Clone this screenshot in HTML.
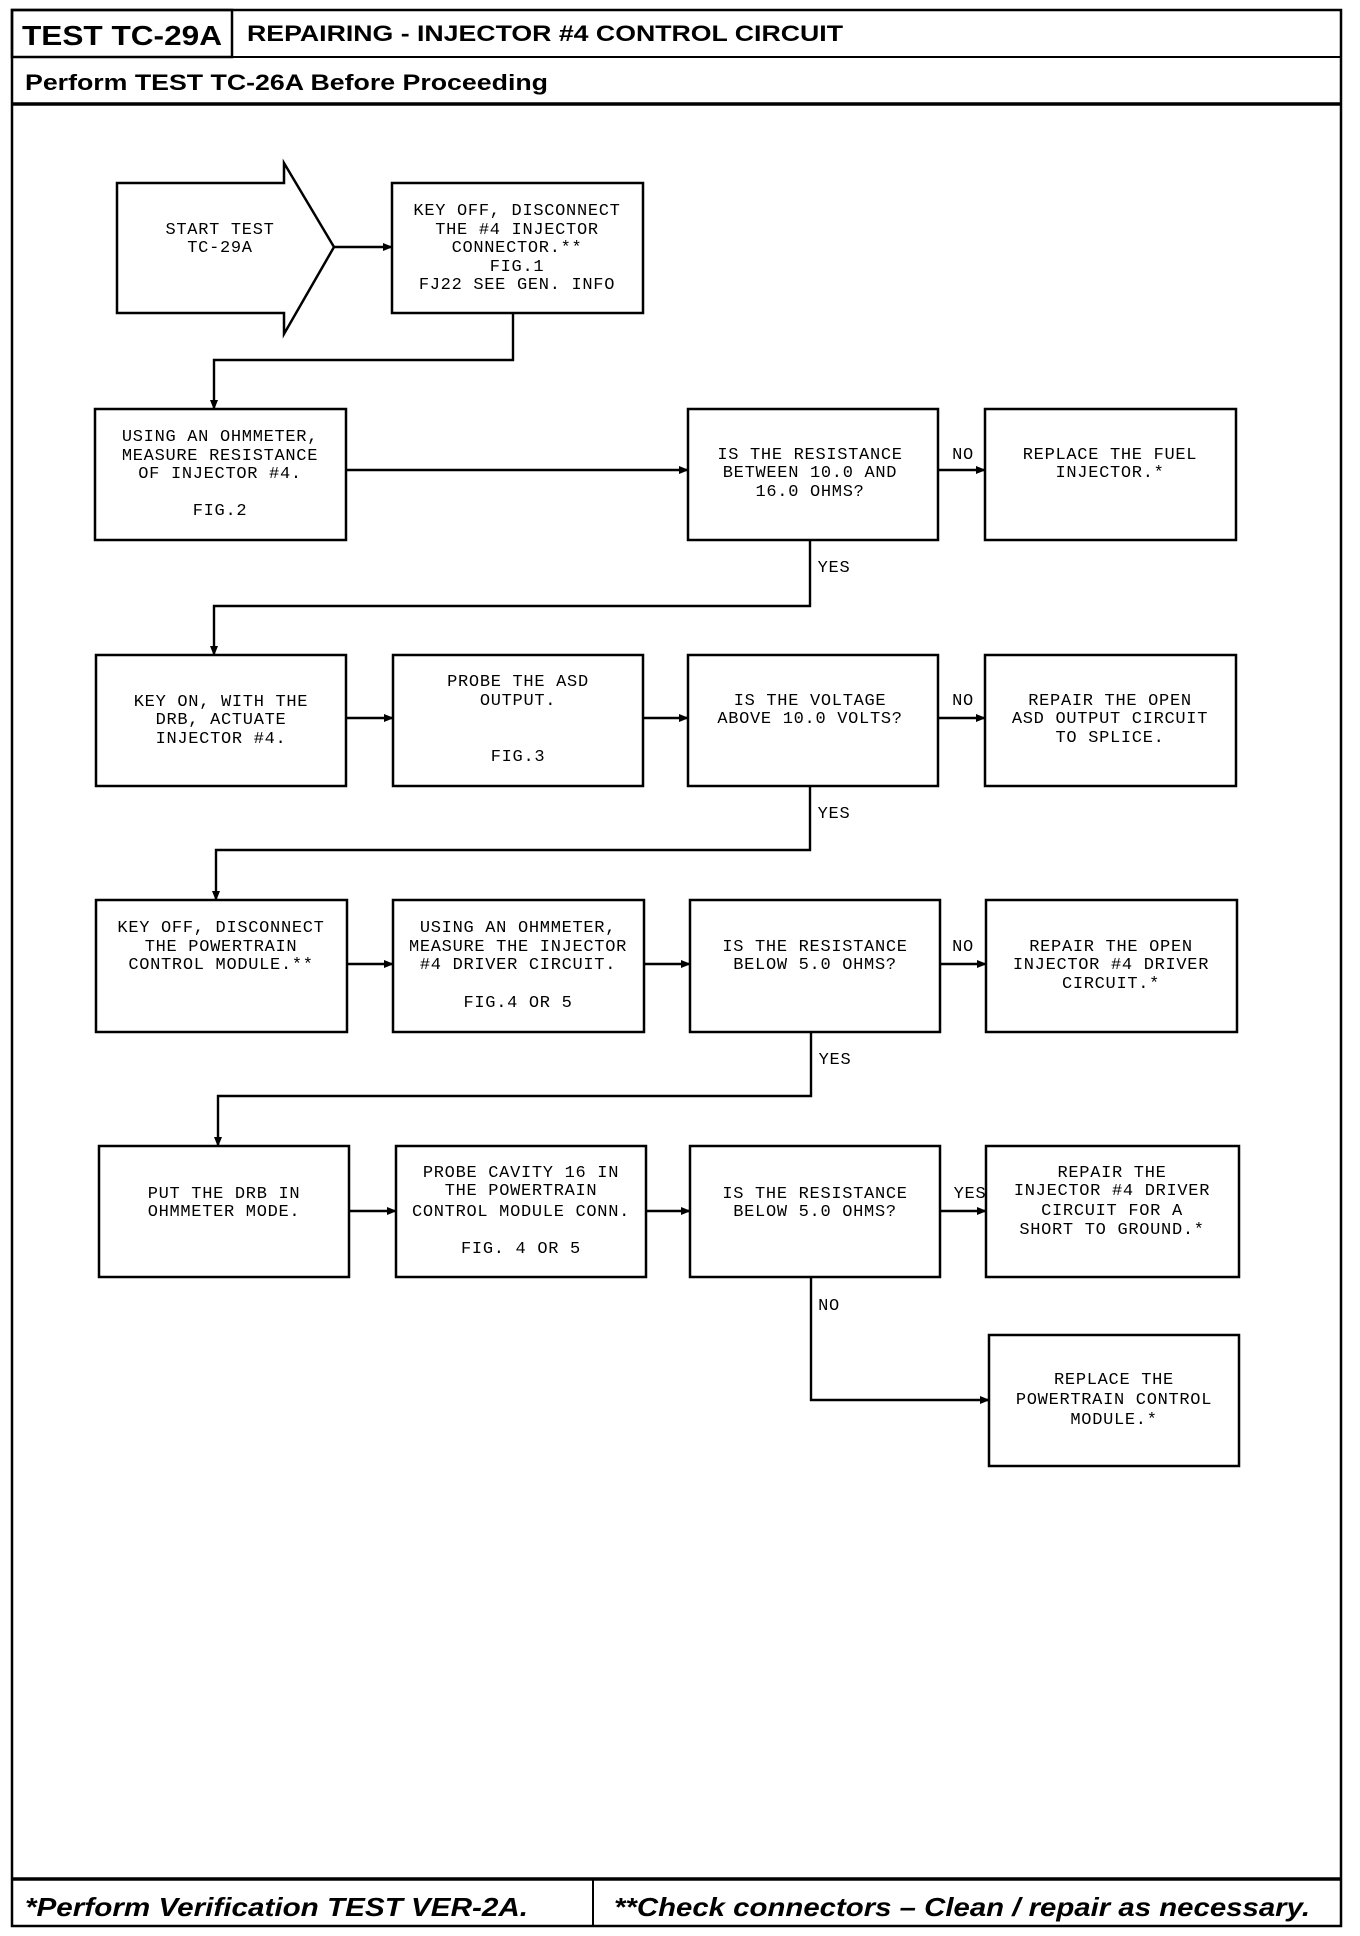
<!DOCTYPE html>
<html><head><meta charset="utf-8"><style>
html,body{margin:0;padding:0;background:#fff;}
svg{display:block;}
.t{font-family:"Liberation Mono",monospace;font-size:17px;letter-spacing:0.7px;text-anchor:middle;fill:#000;}
.b{fill:#fff;stroke:#000;stroke-width:2.5;}
.l{fill:none;stroke:#000;stroke-width:2.4;}
</style></head><body>
<svg width="1360" height="1936" viewBox="0 0 1360 1936" xmlns="http://www.w3.org/2000/svg">
<defs><marker id="a" markerWidth="10" markerHeight="8" refX="9" refY="4" orient="auto" markerUnits="userSpaceOnUse"><path d="M0,0 L10,4 L0,8 z" fill="#000"/></marker></defs>
<rect x="12" y="10" width="1329" height="1916" fill="none" stroke="#000" stroke-width="2.5"/>
<rect x="12" y="10" width="220" height="47" fill="none" stroke="#000" stroke-width="2.5"/>
<line x1="12" y1="57" x2="1341" y2="57" stroke="#000" stroke-width="2"/>
<line x1="12" y1="104" x2="1341" y2="104" stroke="#000" stroke-width="3.5"/>
<line x1="12" y1="1879" x2="1341" y2="1879" stroke="#000" stroke-width="3.5"/>
<line x1="593" y1="1879" x2="593" y2="1926" stroke="#000" stroke-width="2"/>
<g font-family="Liberation Sans, sans-serif" font-weight="bold">
<text x="22" y="45" font-size="28" textLength="200" lengthAdjust="spacingAndGlyphs">TEST TC-29A</text>
<text x="247" y="41" font-size="22" textLength="596" lengthAdjust="spacingAndGlyphs">REPAIRING - INJECTOR #4 CONTROL CIRCUIT</text>
<text x="25" y="90" font-size="22" textLength="523" lengthAdjust="spacingAndGlyphs">Perform TEST TC-26A Before Proceeding</text>
<text x="25" y="1916" font-size="26" font-style="italic" textLength="503" lengthAdjust="spacingAndGlyphs">*Perform Verification TEST VER-2A.</text>
<text x="614" y="1916" font-size="26" font-style="italic" textLength="696" lengthAdjust="spacingAndGlyphs">**Check connectors – Clean / repair as necessary.</text>
</g>
<path class="b" d="M117,183 L284,183 L284,163 L334,247 L284,334 L284,313 L117,313 Z"/>
<rect class="b" x="392" y="183" width="251" height="130"/>
<line class="l" x1="334" y1="247" x2="392" y2="247" marker-end="url(#a)"/>
<polyline class="l" points="513,313 513,360 214,360 214,409" marker-end="url(#a)"/>
<rect class="b" x="95" y="409" width="251" height="131"/>
<rect class="b" x="688" y="409" width="250" height="131"/>
<rect class="b" x="985" y="409" width="251" height="131"/>
<line class="l" x1="346" y1="470" x2="688" y2="470" marker-end="url(#a)"/>
<line class="l" x1="938" y1="470" x2="985" y2="470" marker-end="url(#a)"/>
<polyline class="l" points="810,540 810,606 214,606 214,655" marker-end="url(#a)"/>
<rect class="b" x="96" y="655" width="250" height="131"/>
<rect class="b" x="393" y="655" width="250" height="131"/>
<rect class="b" x="688" y="655" width="250" height="131"/>
<rect class="b" x="985" y="655" width="251" height="131"/>
<line class="l" x1="346" y1="718" x2="393" y2="718" marker-end="url(#a)"/>
<line class="l" x1="643" y1="718" x2="688" y2="718" marker-end="url(#a)"/>
<line class="l" x1="938" y1="718" x2="985" y2="718" marker-end="url(#a)"/>
<polyline class="l" points="810,786 810,850 216,850 216,900" marker-end="url(#a)"/>
<rect class="b" x="96" y="900" width="251" height="132"/>
<rect class="b" x="393" y="900" width="251" height="132"/>
<rect class="b" x="690" y="900" width="250" height="132"/>
<rect class="b" x="986" y="900" width="251" height="132"/>
<line class="l" x1="347" y1="964" x2="393" y2="964" marker-end="url(#a)"/>
<line class="l" x1="644" y1="964" x2="690" y2="964" marker-end="url(#a)"/>
<line class="l" x1="940" y1="964" x2="986" y2="964" marker-end="url(#a)"/>
<polyline class="l" points="811,1032 811,1096 218,1096 218,1146" marker-end="url(#a)"/>
<rect class="b" x="99" y="1146" width="250" height="131"/>
<rect class="b" x="396" y="1146" width="250" height="131"/>
<rect class="b" x="690" y="1146" width="250" height="131"/>
<rect class="b" x="986" y="1146" width="253" height="131"/>
<line class="l" x1="349" y1="1211" x2="396" y2="1211" marker-end="url(#a)"/>
<line class="l" x1="646" y1="1211" x2="690" y2="1211" marker-end="url(#a)"/>
<line class="l" x1="940" y1="1211" x2="986" y2="1211" marker-end="url(#a)"/>
<polyline class="l" points="811,1277 811,1400 989,1400" marker-end="url(#a)"/>
<rect class="b" x="989" y="1335" width="250" height="131"/>
<g class="t">
<text x="220" y="234">START TEST</text><text x="220" y="252">TC-29A</text>
<text x="517" y="215">KEY OFF, DISCONNECT</text><text x="517" y="234">THE #4 INJECTOR</text><text x="517" y="252">CONNECTOR.**</text><text x="517" y="271">FIG.1</text><text x="517" y="289">FJ22 SEE GEN. INFO</text>
<text x="220" y="441">USING AN OHMMETER,</text><text x="220" y="460">MEASURE RESISTANCE</text><text x="220" y="478">OF INJECTOR #4.</text><text x="220" y="515">FIG.2</text>
<text x="810" y="459">IS THE RESISTANCE</text><text x="810" y="477">BETWEEN 10.0 AND</text><text x="810" y="496">16.0 OHMS?</text>
<text x="1110" y="459">REPLACE THE FUEL</text><text x="1110" y="477">INJECTOR.*</text>
<text x="221" y="706">KEY ON, WITH THE</text><text x="221" y="724">DRB, ACTUATE</text><text x="221" y="743">INJECTOR #4.</text>
<text x="518" y="686">PROBE THE ASD</text><text x="518" y="705">OUTPUT.</text><text x="518" y="761">FIG.3</text>
<text x="810" y="705">IS THE VOLTAGE</text><text x="810" y="723">ABOVE 10.0 VOLTS?</text>
<text x="1110" y="705">REPAIR THE OPEN</text><text x="1110" y="723">ASD OUTPUT CIRCUIT</text><text x="1110" y="742">TO SPLICE.</text>
<text x="221" y="932">KEY OFF, DISCONNECT</text><text x="221" y="951">THE POWERTRAIN</text><text x="221" y="969">CONTROL MODULE.**</text>
<text x="518" y="932">USING AN OHMMETER,</text><text x="518" y="951">MEASURE THE INJECTOR</text><text x="518" y="969">#4 DRIVER CIRCUIT.</text><text x="518" y="1007">FIG.4 OR 5</text>
<text x="815" y="951">IS THE RESISTANCE</text><text x="815" y="969">BELOW 5.0 OHMS?</text>
<text x="1111" y="951">REPAIR THE OPEN</text><text x="1111" y="969">INJECTOR #4 DRIVER</text><text x="1111" y="988">CIRCUIT.*</text>
<text x="224" y="1198">PUT THE DRB IN</text><text x="224" y="1216">OHMMETER MODE.</text>
<text x="521" y="1177">PROBE CAVITY 16 IN</text><text x="521" y="1195">THE POWERTRAIN</text><text x="521" y="1216">CONTROL MODULE CONN.</text><text x="521" y="1253">FIG. 4 OR 5</text>
<text x="815" y="1198">IS THE RESISTANCE</text><text x="815" y="1216">BELOW 5.0 OHMS?</text>
<text x="1112" y="1177">REPAIR THE</text><text x="1112" y="1195">INJECTOR #4 DRIVER</text><text x="1112" y="1215">CIRCUIT FOR A</text><text x="1112" y="1234">SHORT TO GROUND.*</text>
<text x="1114" y="1384">REPLACE THE</text><text x="1114" y="1404">POWERTRAIN CONTROL</text><text x="1114" y="1424">MODULE.*</text>
<text x="963" y="459">NO</text><text x="963" y="705">NO</text><text x="963" y="951">NO</text><text x="970" y="1198">YES</text>
<text x="834" y="572">YES</text><text x="834" y="818">YES</text><text x="835" y="1064">YES</text><text x="829" y="1310">NO</text>
</g>
</svg>
</body></html>
